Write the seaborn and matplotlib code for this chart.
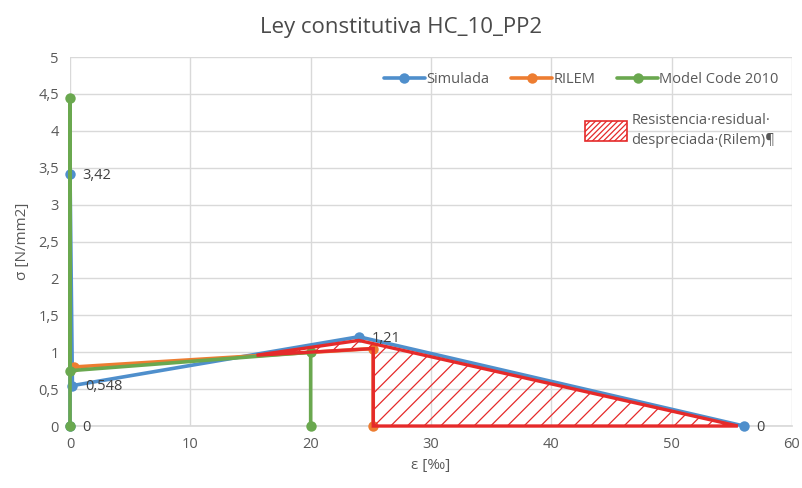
import numpy as np
import pandas as pd
import matplotlib
matplotlib.use("Agg")
import matplotlib.pyplot as plt
from matplotlib.patches import Polygon, Patch
from matplotlib.lines import Line2D
from matplotlib.ticker import FuncFormatter, MultipleLocator
import seaborn as sns

sns.set_theme(style="white")
plt.rcParams['font.family'] = ['Open Sans', 'DejaVu Sans']

# Constitutive law curves (strain in per mil, stress in N/mm2)
sim_eps = [0.0, 0.0, 0.2, 24.0, 56.0]
sim_sig = [0.0, 3.42, 0.548, 1.21, 0.0]

rilem_eps = [0.3, 25.2, 25.2]
rilem_sig = [0.80, 1.05, 0.0]

mc_eps = [0.0, 0.0, 0.0, 20.0, 20.0]
mc_sig = [0.0, 4.45, 0.75, 1.0, 0.0]

# Neglected residual strength region (between RILEM and simulated curves)
hatch_eps = [15.5, 24.0, 55.5, 25.2, 25.2]
hatch_sig = [0.96, 1.16, 0.0, 0.0, 1.05]

# Point labels on the simulated curve
lab_eps = [0.0, 0.2, 24.0, 56.0, 0.0]
lab_sig = [3.42, 0.548, 1.21, 0.0, 0.0]
lab_txt = ["3,42", "0,548", "1,21", "0", "0"]

blue = "#4f8fcc"
orange = "#ed7d31"
green = "#6aa84f"
red = "#e52a2a"
grey_txt = "#595959"

plt.rcParams['hatch.color'] = red
plt.rcParams['hatch.linewidth'] = 0.9

fig = plt.figure(figsize=(8.02, 4.88), dpi=100)
ax = fig.add_axes([0.0873, 0.127, 0.9002, 0.756])

frames = {
    "Simulada": (sim_eps, sim_sig, blue),
    "RILEM": (rilem_eps, rilem_sig, orange),
    "Model Code 2010": (mc_eps, mc_sig, green),
}
for name, (xe, ys, col) in frames.items():
    df = pd.DataFrame({"eps": xe, "sig": ys})
    sns.lineplot(data=df, x="eps", y="sig", sort=False, estimator=None,
                 color=col, linewidth=2.6, marker="o", markersize=7.5,
                 markeredgewidth=0, ax=ax, zorder=3, clip_on=False)

poly = Polygon(np.column_stack([hatch_eps, hatch_sig]), closed=True,
               facecolor="none", edgecolor=red, hatch="//", linewidth=2.4,
               zorder=4, clip_on=False)
ax.add_patch(poly)

for xe, ys, t in zip(lab_eps, lab_sig, lab_txt):
    ax.annotate(t, (xe, ys), xytext=(9, -1), textcoords="offset points",
                ha="left", va="center", fontsize=10.5, color="#404040",
                zorder=6)

ax.set_xlim(0, 60)
ax.set_ylim(0, 5)
ax.xaxis.set_major_locator(MultipleLocator(10))
ax.yaxis.set_major_locator(MultipleLocator(0.5))
fmt = FuncFormatter(lambda v, p: ("%g" % v).replace(".", ","))
ax.xaxis.set_major_formatter(fmt)
ax.yaxis.set_major_formatter(fmt)
ax.grid(True, color="#d9d9d9", linewidth=1.0)
ax.set_axisbelow(True)
for s in ax.spines.values():
    s.set_visible(False)
ax.spines["bottom"].set_visible(True)
ax.spines["bottom"].set_color("#d9d9d9")
ax.tick_params(axis="both", labelsize=10.5, colors=grey_txt, length=0, pad=8)

ax.set_xlabel("ε [‰]", fontsize=11, color=grey_txt, labelpad=4)
ax.set_ylabel("σ [N/mm2]", fontsize=11, color=grey_txt, labelpad=6)
fig.suptitle("Ley constitutiva HC_10_PP2", fontsize=16, color="#4a4a4a",
             y=0.965)

handles = [Line2D([], [], color=c, linewidth=2.6, marker="o", markersize=7.5,
                  markeredgewidth=0) for c in (blue, orange, green)]
leg1 = ax.legend(handles, list(frames.keys()), loc="upper right",
                 bbox_to_anchor=(1.0, 0.995), ncol=3, frameon=False,
                 fontsize=10.5, handlelength=2.8, handletextpad=0.1,
                 columnspacing=1.5, labelcolor=grey_txt)
ax.add_artist(leg1)

hpatch = Patch(facecolor="white", edgecolor=red, hatch="//////",
               linewidth=1.2)
leg2 = ax.legend([hpatch], ["Resistencia·residual·\ndespreciada·(Rilem)¶"],
                 loc="upper right", bbox_to_anchor=(0.995, 0.885),
                 frameon=False, fontsize=10.5, handlelength=2.9,
                 handleheight=1.8, handletextpad=0.3, labelcolor=grey_txt)
for t in leg2.get_texts():
    t.set_linespacing(1.45)

fig.savefig("out.png", dpi=100, facecolor="white")
